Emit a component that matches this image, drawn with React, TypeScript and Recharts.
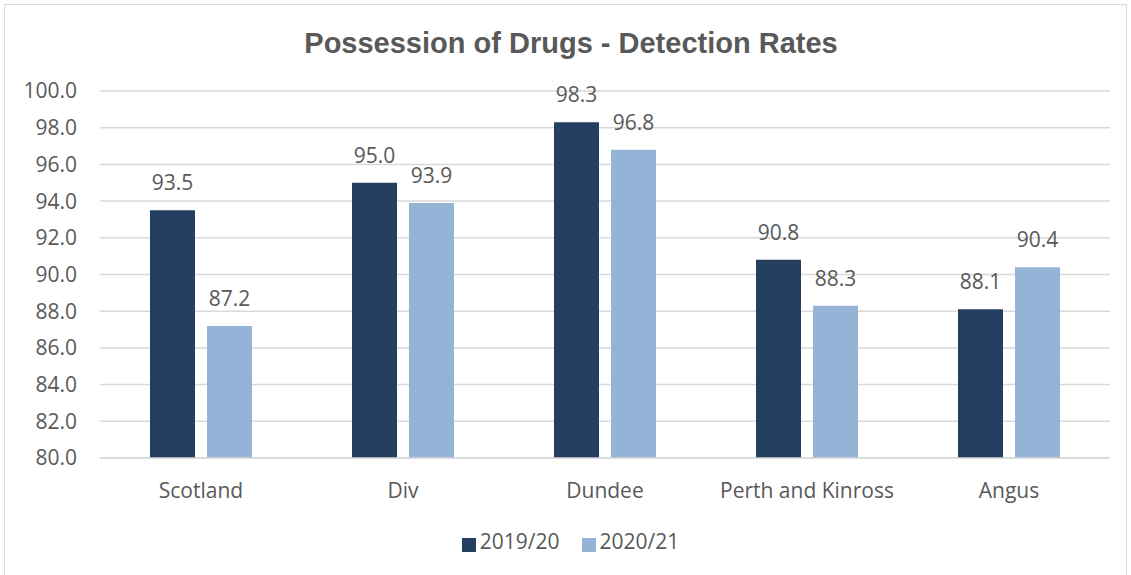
import React from 'react';
import {
  BarChart,
  Bar,
  XAxis,
  YAxis,
  CartesianGrid,
  Legend,
  LabelList
} from 'recharts';

const areas = ['Scotland', 'Div', 'Dundee', 'Perth and Kinross', 'Angus'];
const rates1920 = [93.5, 95.0, 98.3, 90.8, 88.1];
const rates2021 = [87.2, 93.9, 96.8, 88.3, 90.4];
const yTicks = [80, 82, 84, 86, 88, 90, 92, 94, 96, 98, 100];

const data = areas.map((name, i) => ({
  name,
  y1920: rates1920[i],
  y2021: rates2021[i]
}));

const FONT = '"Open Sans", "Liberation Sans", sans-serif';
const TEXT = '#595959';
const FS = 21;

const App = () => {
  return (
    <div
      style={{
        position: 'absolute',
        left: 0,
        top: 0,
        width: 1131,
        height: 575,
        overflow: 'hidden',
        background: '#fff',
        fontFamily: FONT
      }}
    >
      <div
        style={{
          position: 'absolute',
          left: 4,
          top: 4,
          width: 1121,
          height: 580,
          border: '1px solid #d9d9d9'
        }}
      />
      <div
        style={{
          position: 'absolute',
          left: 0,
          top: 27,
          width: 1142,
          textAlign: 'center',
          fontFamily: '"Liberation Sans", Arial, sans-serif',
          fontWeight: 'bold',
          fontSize: 29,
          color: TEXT
        }}
      >
        Possession of Drugs - Detection Rates
      </div>
      <BarChart
        width={1131}
        height={575}
        data={data}
        margin={{ top: 91, right: 21, left: 0, bottom: 87 }}
        barGap={12}
        barSize={45}
        style={{ position: 'absolute', left: 0, top: 0 }}
      >
        <CartesianGrid vertical={false} stroke="#d9d9d9" strokeWidth={1.5} />
        <XAxis
          dataKey="name"
          height={30}
          axisLine={{ stroke: '#d9d9d9', strokeWidth: 1.5 }}
          tickLine={false}
          tickMargin={19}
          tick={{ fill: TEXT, fontSize: FS, fontFamily: FONT }}
        />
        <YAxis
          width={100}
          domain={[80, 100]}
          ticks={yTicks}
          interval={0}
          axisLine={false}
          tickLine={false}
          tickMargin={17}
          tickFormatter={(v: number) => v.toFixed(1)}
          tick={{ fill: TEXT, fontSize: FS, fontFamily: FONT }}
        />
        <Legend
          verticalAlign="middle"
          align="center"
          layout="horizontal"
          iconType="square"
          iconSize={14}
          wrapperStyle={{ top: 527, left: 16, width: 1131 }}
          formatter={(value: string) => (
            <span style={{ color: TEXT, fontSize: FS, fontFamily: FONT, paddingRight: 12 }}>
              {value}
            </span>
          )}
        />
        <Bar dataKey="y1920" name="2019/20" fill="#243F60" isAnimationActive={false}>
          <LabelList
            dataKey="y1920"
            position="top"
            offset={20}
            formatter={(v: number) => v.toFixed(1)}
            style={{ fill: TEXT, fontSize: FS, fontFamily: FONT }}
          />
        </Bar>
        <Bar dataKey="y2021" name="2020/21" fill="#95B3D7" isAnimationActive={false}>
          <LabelList
            dataKey="y2021"
            position="top"
            offset={20}
            formatter={(v: number) => v.toFixed(1)}
            style={{ fill: TEXT, fontSize: FS, fontFamily: FONT }}
          />
        </Bar>
      </BarChart>
    </div>
  );
};

export default App;
